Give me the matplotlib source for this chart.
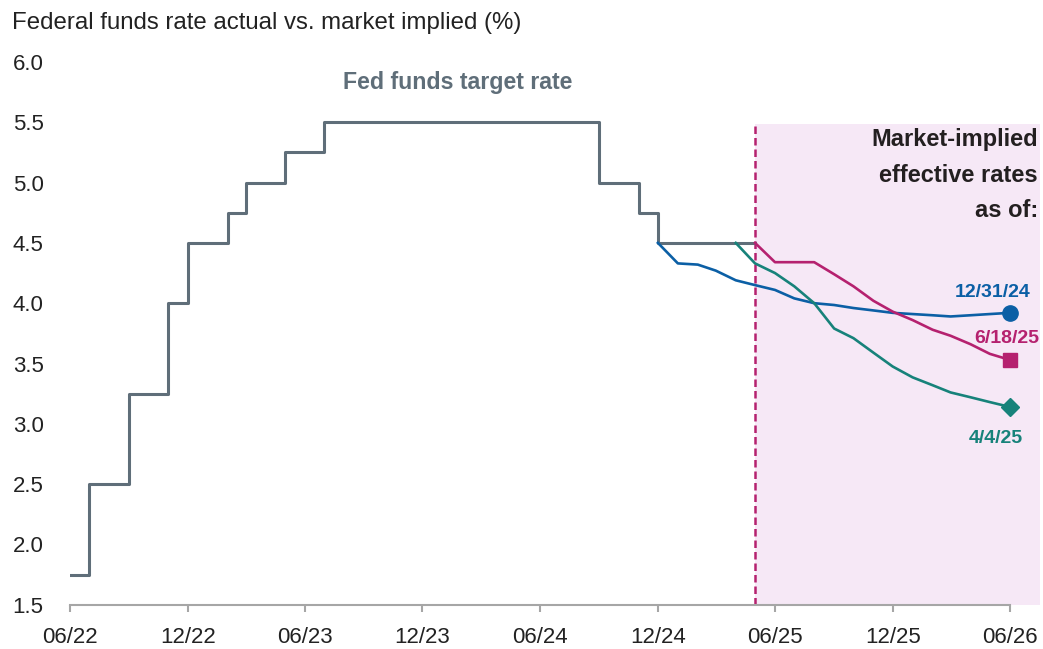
import matplotlib
matplotlib.use("Agg")
import matplotlib.pyplot as plt
import matplotlib.dates as mdates
import pandas as pd

plt.rcParams['font.family'] = ['Liberation Sans', 'DejaVu Sans']

# fed funds target rate (upper bound), monthly from 06/22, ends at the "today" line
target_start = "2022-06-01"
target_rate = [1.75, 2.5, 2.5, 3.25, 3.25, 4.0, 4.5, 4.5, 4.75, 5.0, 5.0, 5.25, 5.25,
               5.5, 5.5, 5.5, 5.5, 5.5, 5.5, 5.5, 5.5, 5.5, 5.5, 5.5, 5.5, 5.5, 5.5,
               5.0, 5.0, 4.75, 4.5, 4.5, 4.5, 4.5, 4.5, 4.5]
today = "2025-05-01"

# market implied paths (monthly)
dec24_start = "2024-12-01"
dec24 = [4.50, 4.33, 4.32, 4.27, 4.19, 4.15, 4.11, 4.04, 4.00, 3.985, 3.96, 3.94,
         3.92, 3.91, 3.90, 3.89, 3.90, 3.91, 3.92]
apr25_start = "2025-04-01"
apr25 = [4.50, 4.33, 4.25, 4.14, 4.00, 3.79, 3.71, 3.59, 3.475, 3.385, 3.32, 3.26,
         3.22, 3.18, 3.14]
jun25_start = "2025-05-01"
jun25 = [4.50, 4.34, 4.34, 4.34, 4.24, 4.14, 4.02, 3.93, 3.86, 3.78, 3.73, 3.66,
         3.58, 3.53]

xtick_dates = ["2022-06-01", "2022-12-01", "2023-06-01", "2023-12-01", "2024-06-01",
               "2024-12-01", "2025-06-01", "2025-12-01", "2026-06-01"]
xtick_labels = ["06/22", "12/22", "06/23", "12/23", "06/24", "12/24", "06/25", "12/25", "06/26"]
yticks = [1.5, 2.0, 2.5, 3.0, 3.5, 4.0, 4.5, 5.0, 5.5, 6.0]

GRAY = '#5f6e79'
BLUE = '#0b5fa5'
PINK = '#b5216f'
GREEN = '#17827a'
SHADE = '#f6e8f6'
AXIS = '#a6a6a6'

def months(start, n):
    return pd.date_range(start, periods=n, freq='MS')

fig = plt.figure(figsize=(10.43, 6.49), dpi=100)
ax = fig.add_axes([70/1043, 1 - 604.7/649, 970/1043, (604.7 - 62)/649])

xl = (pd.Timestamp("2022-06-01"), pd.Timestamp("2026-07-18"))

# shaded forecast area
ax.fill_between([pd.Timestamp(today), xl[1]], 1.5, 5.49, color=SHADE, lw=0, zorder=0)
ax.plot([pd.Timestamp(today)] * 2, [1.5, 5.49], color=PINK, lw=1.8, ls=(0, (3, 1.6)), zorder=1)

ax.plot(months(target_start, len(target_rate)), target_rate, color=GRAY, lw=2.2,
        drawstyle='steps-post', zorder=3)

ax.plot(months(dec24_start, len(dec24)), dec24, color=BLUE, lw=1.9, zorder=4,
        marker='o', markevery=[len(dec24) - 1], ms=11)
ax.plot(months(apr25_start, len(apr25)), apr25, color=GREEN, lw=1.9, zorder=4,
        marker='D', markevery=[len(apr25) - 1], ms=9.5)
ax.plot(months(jun25_start, len(jun25)), jun25, color=PINK, lw=1.9, zorder=4,
        marker='s', markevery=[len(jun25) - 1], ms=10)

end = pd.Timestamp(xtick_dates[-1])
ax.annotate("12/31/24", (end, dec24[-1]), xytext=(21, 20), textcoords='offset pixels',
            ha='right', va='center', color=BLUE, fontsize=14, fontweight='bold')
ax.annotate("6/18/25", (end, jun25[-1]), xytext=(29, 21), textcoords='offset pixels',
            ha='right', va='center', color=PINK, fontsize=14, fontweight='bold')
ax.annotate("4/4/25", (end, apr25[-1]), xytext=(13, -32), textcoords='offset pixels',
            ha='right', va='center', color=GREEN, fontsize=14, fontweight='bold')

ax.set_xlim(*xl)
ax.set_ylim(1.5, 6.0)
ax.set_xticks(pd.to_datetime(xtick_dates))
ax.set_xticklabels(xtick_labels)
ax.set_yticks(yticks)
ax.set_yticklabels([f"{v:.1f}" for v in yticks])

for s in ['top', 'right', 'left']:
    ax.spines[s].set_visible(False)
ax.spines['bottom'].set_color(AXIS)
ax.spines['bottom'].set_linewidth(1.5)
ax.spines['bottom'].set_bounds(mdates.date2num(pd.Timestamp(xtick_dates[0])),
                               mdates.date2num(end))
ax.tick_params(axis='x', colors=AXIS, length=5, width=1.5, pad=11, labelsize=16,
               labelcolor='#222222')
ax.tick_params(axis='y', length=0, pad=19, labelsize=16, labelcolor='#222222')

fig.text(12/1043, 1 - 23/649, "Federal funds rate actual vs. market implied (%)",
         fontsize=17.3, va='center', ha='left', color='#222222')
fig.text(458/1043, 1 - 83/649, "Fed funds target rate", fontsize=16.7, fontweight='bold',
         color=GRAY, ha='center', va='center')
fig.text(1038/1043, 1 - 175/649, "Market-implied\neffective rates\nas of:", fontsize=17,
         fontweight='bold', color='#231f20', ha='right', va='center', multialignment='right',
         linespacing=1.7)

fig.savefig("out.png", dpi=100)
